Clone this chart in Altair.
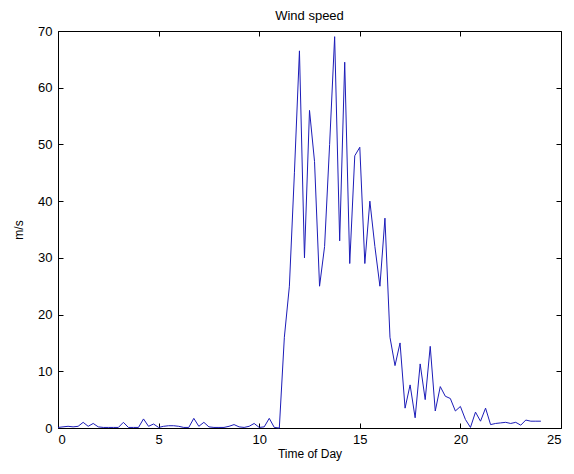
import altair as alt
import pandas as pd

# Wind speed (m/s), sampled every 15 minutes from 0 h to 24 h
speed = [
    0.1, 0.2, 0.3, 0.2, 0.3, 1.0, 0.3, 0.8, 0.2, 0.1,
    0.1, 0.1, 0.1, 1.0, 0.1, 0.1, 0.1, 1.6, 0.3, 0.7,
    0.1, 0.3, 0.4, 0.4, 0.3, 0.1, 0.1, 1.7, 0.3, 1.0,
    0.2, 0.1, 0.1, 0.1, 0.3, 0.6, 0.2, 0.1, 0.3, 0.8,
    0.1, 0.2, 1.7, 0.1, 0.0, 16.0, 25.0, 45.0, 66.5, 30.0,
    56.0, 47.0, 25.0, 32.0, 50.0, 69.0, 33.0, 64.5, 29.0, 48.0,
    49.5, 29.0, 40.0, 32.0, 25.0, 37.0, 16.0, 11.0, 15.0, 3.5,
    7.6, 1.8, 11.3, 5.0, 14.4, 3.0, 7.3, 5.6, 5.2, 3.0,
    3.8, 1.5, 0.1, 2.8, 1.2, 3.5, 0.6, 0.8, 0.9, 1.0,
    0.8, 1.0, 0.5, 1.4, 1.2, 1.2, 1.2,
]
hours = [i * 0.25 for i in range(len(speed))]

x_ticks = [0, 5, 10, 15, 20, 25]
y_ticks = [0, 10, 20, 30, 40, 50, 60, 70]

df = pd.DataFrame({"t": hours, "v": speed})

FONT = "Liberation Sans"

xscale = alt.Scale(domain=[0, 25], nice=False, zero=False)
yscale = alt.Scale(domain=[0, 70], nice=False)

common = dict(offset=-5, tickSize=5, domain=False, grid=False,
              tickColor="black", tickWidth=1)

line = alt.Chart(df).mark_line(color="#1c1cb8", strokeWidth=1).encode(
    x=alt.X("t:Q", scale=xscale,
            axis=alt.Axis(title="Time of Day", values=x_ticks, labelPadding=5,
                          titlePadding=2, labelFontSize=13, titleFontSize=12,
                          labelFont=FONT, titleFont=FONT, labelColor="black",
                          titleColor="black", titleFontWeight="normal", **common)),
    y=alt.Y("v:Q", scale=yscale,
            axis=alt.Axis(title="m/s", values=y_ticks, labelPadding=6,
                          titlePadding=12, labelFontSize=13, titleFontSize=12,
                          labelFont=FONT, titleFont=FONT, labelColor="black",
                          titleColor="black", titleFontWeight="normal", **common)),
)

frame = alt.Chart(df).mark_line(strokeOpacity=0).encode(
    x=alt.X("t:Q", scale=xscale,
            axis=alt.Axis(orient="top", title=None, labels=False, values=x_ticks, **common)),
    y=alt.Y("v:Q", scale=yscale,
            axis=alt.Axis(orient="right", title=None, labels=False, values=y_ticks, **common)),
)

chart = alt.layer(line, frame).resolve_axis(x="independent", y="independent").properties(
    width=503,
    height=397,
    title=alt.TitleParams("Wind speed", font=FONT, fontSize=13, fontWeight="normal",
                          color="black", offset=2),
    autosize=alt.AutoSizeParams(type="none"),
    padding={"left": 50, "top": 23, "right": 5, "bottom": 38},
    background="white",
).configure_view(stroke="black", strokeWidth=1)

chart.save("out.html", embed_options={"renderer": "svg", "actions": False})
